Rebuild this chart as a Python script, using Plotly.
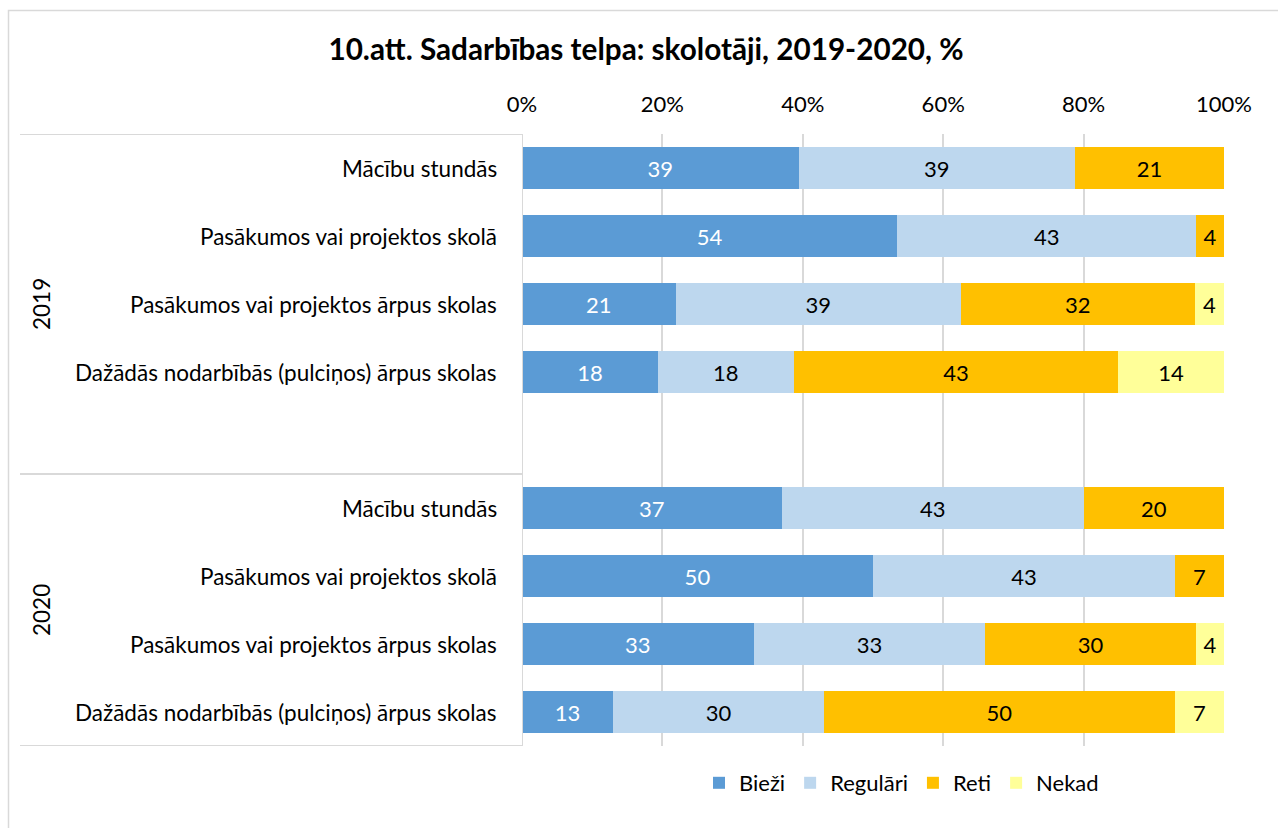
import plotly.graph_objects as go

# ---- data ----
categories = [
    "Mācību stundās",
    "Pasākumos vai projektos skolā",
    "Pasākumos vai projektos ārpus skolas",
    "Dažādās nodarbībās (pulciņos) ārpus skolas",
]
years = ["2019", "2020"]
series = ["Bieži", "Regulāri", "Reti", "Nekad"]

bieza_2019 = [39, 54, 21, 18]
regulari_2019 = [39, 43, 39, 18]
reti_2019 = [21, 4, 32, 43]
nekad_2019 = [0, 0, 4, 14]

bieza_2020 = [37, 50, 33, 13]
regulari_2020 = [43, 43, 33, 30]
reti_2020 = [20, 7, 30, 50]
nekad_2020 = [0, 0, 4, 7]

x_ticks = [0, 20, 40, 60, 80, 100]
x_tick_labels = ["0%", "20%", "40%", "60%", "80%", "100%"]

colors = ["#5B9BD5", "#BDD7EE", "#FFC000", "#FFFF99"]
text_colors = ["white", "black", "black", "black"]

FONT = "Lato"
FS = 22
FS_CAT = 22.5

# row positions: 2019 rows 0-3, blank row 4, 2020 rows 5-8
ypos_2019 = [0, 1, 2, 3]
ypos_2020 = [5, 6, 7, 8]
ypos = ypos_2019 + ypos_2020

values = [
    bieza_2019 + bieza_2020,
    regulari_2019 + regulari_2020,
    reti_2019 + reti_2020,
    nekad_2019 + nekad_2020,
]

fig = go.Figure()
for name, vals, col, tcol in zip(series, values, colors, text_colors):
    fig.add_trace(go.Bar(
        name=name,
        orientation="h",
        x=vals,
        y=ypos,
        marker=dict(color=col, line=dict(width=0)),
        text=[str(v) if v > 0 else "" for v in vals],
        textposition="inside",
        insidetextanchor="middle",
        textangle=0,
        textfont=dict(family=FONT, size=FS, color=tcol),
        hoverinfo="skip",
    ))

# plot area geometry in px
L, R, T, B = 522, 1224, 134, 746
W, H = 1278, 828
pw, ph = R - L, B - T


def px_x(px):
    return (px - L) / pw


def px_y(py):
    return (B - py) / ph


annotations = []
for i, cat in enumerate(categories):
    for yp in (ypos_2019[i], ypos_2020[i]):
        annotations.append(dict(
            x=px_x(499), xref="paper", y=yp, yref="y",
            text=cat, showarrow=False, xanchor="right", yanchor="middle",
            font=dict(family=FONT, size=FS_CAT, color="black"),
        ))
for yr, yc in zip(years, [2.0, 6.5]):
    annotations.append(dict(
        x=px_x(41), xref="paper", y=yc, yref="y",
        text=yr, showarrow=False, textangle=-90,
        xanchor="center", yanchor="middle",
        font=dict(family=FONT, size=FS_CAT, color="black"),
    ))

shapes = []
for yl in (-0.5, 4.5, 8.5):
    shapes.append(dict(
        type="line", xref="paper", yref="y",
        x0=px_x(20), x1=0, y0=yl, y1=yl,
        line=dict(color="#D9D9D9", width=2),
    ))
# outer chart border
shapes.append(dict(
    type="rect", xref="paper", yref="paper",
    x0=px_x(8.5), x1=px_x(1300), y0=px_y(10.5), y1=px_y(850),
    line=dict(color="#D9D9D9", width=1.5), fillcolor="rgba(0,0,0,0)",
))
# axis line at 0%
shapes.append(dict(type="line", xref="x", yref="paper", x0=0, x1=0, y0=0, y1=1,
                   line=dict(color="#D9D9D9", width=2)))

fig.update_layout(
    barmode="stack",
    barnorm="percent",
    bargap=0.37,
    width=W, height=H,
    margin=dict(l=L, r=W - R, t=T, b=H - B, autoexpand=False),
    paper_bgcolor="white",
    plot_bgcolor="white",
    font=dict(family=FONT, size=FS, color="black"),
    title=dict(
        text="<b>10.att. Sadarbības telpa: skolotāji, 2019-2020, %</b>",
        x=646 / W, xref="container", xanchor="center",
        y=1 - 50 / H, yref="container", yanchor="middle",
        font=dict(family=FONT, size=29.7, color="black"),
    ),
    xaxis=dict(
        side="top",
        range=[0, 100],
        tickmode="array",
        tickvals=x_ticks,
        ticktext=x_tick_labels,
        showgrid=True,
        gridcolor="#D9D9D9",
        gridwidth=2,
        zeroline=False,
        showline=False,
        ticks="",
        ticklabelstandoff=17,
        tickfont=dict(family=FONT, size=FS, color="black"),
        fixedrange=True,
    ),
    yaxis=dict(
        range=[8.5, -0.5],
        showticklabels=False,
        showgrid=False,
        zeroline=False,
        showline=False,
        ticks="",
        fixedrange=True,
    ),
    legend=dict(
        orientation="h",
        x=px_x(699), xanchor="left",
        y=px_y(783), yanchor="middle",
        font=dict(family=FONT, size=FS, color="black"),
        traceorder="normal",
        itemclick=False,
        itemdoubleclick=False,
    ),
    uniformtext=dict(minsize=FS, mode="show"),
    annotations=annotations,
    shapes=shapes,
)

fig.write_html(
    "out.html",
    config={"displayModeBar": False},
    post_script="document.body.style.margin='0px';document.body.style.padding='0px';",
)
